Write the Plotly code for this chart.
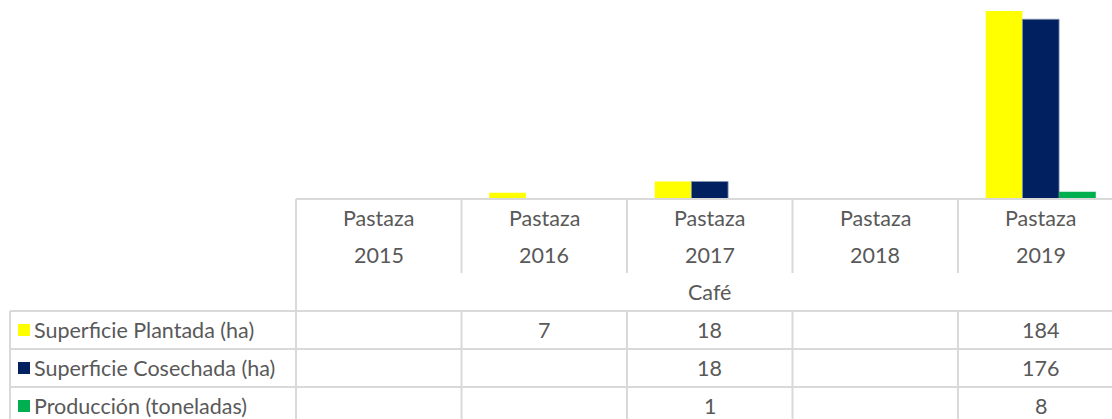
import plotly.graph_objects as go

# Data
categories = ["Pastaza<br>2015", "Pastaza<br>2016", "Pastaza<br>2017", "Pastaza<br>2018", "Pastaza<br>2019"]
group_label = "Café"
series_names = ["Superficie Plantada (ha)", "Superficie Cosechada (ha)", "Producción (toneladas)"]
plantada = [None, 7, 18, None, 184]
cosechada = [None, None, 18, None, 176]
produccion = [None, None, 1, None, 8]
series_values = [plantada, cosechada, produccion]
series_colors = ["#FFFF00", "#002060", "#00B050"]
series_edges = [("#FFFF00", 0), ("#8497B0", 0.8), ("#00B050", 0)]

W, H = 1112, 419
FONT = "Lato"
FSIZE = 21.5
TXT = "#595959"
GRID = "#D9D9D9"

def px(x):
    return x / W

def py(y):
    return 1 - y / H

plot_left, axis_y = 296, 200
col_w = 165.5

fig = go.Figure()
for name, vals, color, (edge, ew) in zip(series_names, series_values, series_colors, series_edges):
    fig.add_trace(go.Bar(
        x=list(range(len(categories))), y=vals, name=name,
        marker=dict(color=color, line=dict(width=ew, color=edge)),
        hoverinfo="y+name",
    ))

x_max = (W - plot_left) / col_w - 0.5

shapes = []
line = dict(color=GRID, width=2)
# Category axis line / top of the data table
shapes.append(dict(type="line", xref="paper", yref="paper", x0=px(plot_left), x1=1, y0=py(axis_y - 1), y1=py(axis_y - 1), line=line))
row_tops = [311, 349, 387]
for y in row_tops:
    shapes.append(dict(type="line", xref="paper", yref="paper", x0=px(10), x1=1, y0=py(y), y1=py(y), line=line))
# Outer vertical borders
shapes.append(dict(type="line", xref="paper", yref="paper", x0=px(10), x1=px(10), y0=py(311), y1=0, line=line))
shapes.append(dict(type="line", xref="paper", yref="paper", x0=px(plot_left), x1=px(plot_left), y0=py(axis_y - 1), y1=0, line=line))
# Column dividers between categories
for i in range(len(categories) - 1):
    xd = i + 0.5
    shapes.append(dict(type="line", xref="x", yref="paper", x0=xd, x1=xd, y0=py(axis_y - 1), y1=py(273), line=line))
    shapes.append(dict(type="line", xref="x", yref="paper", x0=xd, x1=xd, y0=py(311), y1=0, line=line))

font = dict(family=FONT, size=FSIZE, color=TXT)
annotations = []
for i, cat in enumerate(categories):
    top, bottom = cat.split("<br>")
    for text, y in ((top, 218), (bottom, 255)):
        annotations.append(dict(x=i, xref="x", y=py(y), yref="paper", text=text, showarrow=False,
                                font=font, xanchor="center", yanchor="middle"))
annotations.append(dict(x=2, xref="x", y=py(292), yref="paper", text=group_label, showarrow=False,
                        font=font, xanchor="center", yanchor="middle"))

row_centers = [330, 368, 406]
for name, vals, color, yc in zip(series_names, series_values, series_colors, row_centers):
    shapes.append(dict(type="rect", xref="paper", yref="paper", x0=px(18), x1=px(30), y0=py(yc + 6), y1=py(yc - 6),
                       fillcolor=color, line=dict(width=0)))
    annotations.append(dict(x=px(32), xref="paper", y=py(yc), yref="paper", text=name, showarrow=False,
                            font=font, xanchor="left", yanchor="middle"))
    for i, v in enumerate(vals):
        if v is not None:
            annotations.append(dict(x=i, xref="x", y=py(yc), yref="paper", text=str(v), showarrow=False,
                                    font=font, xanchor="center", yanchor="middle"))

fig.update_layout(
    width=W, height=H,
    margin=dict(l=0, r=0, t=0, b=0),
    paper_bgcolor="white", plot_bgcolor="white",
    barmode="group", bargap=0.335, bargroupgap=0,
    showlegend=False,
    xaxis=dict(domain=[px(plot_left), 1], range=[-0.5, x_max], showticklabels=False,
               showgrid=False, zeroline=False, showline=False, ticks=""),
    yaxis=dict(domain=[py(axis_y), 1], range=[0, 184 * axis_y / 189], showticklabels=False,
               showgrid=False, zeroline=False, showline=False, ticks=""),
    shapes=shapes,
    annotations=annotations,
)

fig.write_html("out.html")
